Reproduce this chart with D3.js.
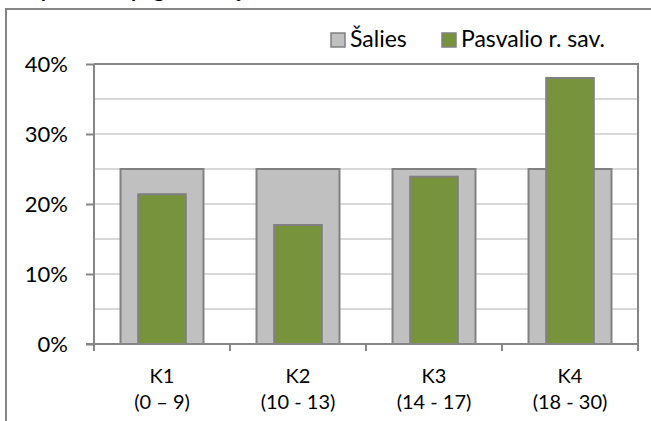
<!DOCTYPE html>
<html>
<head>
<meta charset="utf-8">
<script src="https://cdn.jsdelivr.net/npm/d3@7"></script>
<style>
  body { margin: 0; background: #fff; }
  svg { display: block; font-family: Lato, "Open Sans", sans-serif; }
</style>
</head>
<body>
<svg id="chart" width="651" height="421"></svg>
<script>
// data
const categories = ["K1", "K2", "K3", "K4"];
const ranges = ["(0 – 9)", "(10 - 13)", "(14 - 17)", "(18 - 30)"];
const salies = [0.25, 0.25, 0.25, 0.25];
const pasvalio = [0.214, 0.17, 0.239, 0.38];
const seriesNames = ["Šalies", "Pasvalio r. sav."];
const yTicks = [0, 0.1, 0.2, 0.3, 0.4];

const width = 651, height = 421;
const margin = {top: 64, right: 13, bottom: 77, left: 94};

const svg = d3.select("#chart");

// outer chart frame (runs off the right/bottom edge)
svg.append("rect")
    .attr("x", 6).attr("y", 9)
    .attr("width", 700).attr("height", 500)
    .attr("fill", "none")
    .attr("stroke", "#868686")
    .attr("stroke-width", 2);

// title, mostly above the visible area
svg.append("text")
    .attr("x", 8).attr("y", -3)
    .attr("font-weight", "bold")
    .attr("font-size", 21)
    .text("Dalyvavimas pagal amžių, 8 klasė");

let x = d3.scaleBand()
    .domain(categories)
    .range([margin.left, width - margin.right])
    .padding(0);

let y = d3.scaleLinear()
    .domain([0, 0.4])
    .range([height - margin.bottom, margin.top]);

// gridlines every 5%
svg.append("g")
    .selectAll("line")
    .data(y.ticks(8).filter(d => d > 0))
    .join("line")
        .attr("x1", margin.left)
        .attr("x2", width - margin.right)
        .attr("y1", d => y(d))
        .attr("y2", d => y(d))
        .attr("stroke", "#d9d9d9")
        .attr("stroke-width", 2);

// plot area top/right border
svg.append("path")
    .attr("d", `M${margin.left},${y(0.4)}H${width - margin.right}V${y(0)}`)
    .attr("fill", "none")
    .attr("stroke", "#868686")
    .attr("stroke-width", 2);

const rows = categories.map((c, i) => ({cat: c, s: salies[i], p: pasvalio[i]}));

// Šalies bars (wide, gray)
const wideW = x.bandwidth() * 0.61;
svg.append("g")
    .selectAll("rect")
    .data(rows)
    .join("rect")
        .attr("x", d => x(d.cat) + (x.bandwidth() - wideW) / 2)
        .attr("y", d => y(d.s))
        .attr("width", wideW)
        .attr("height", d => y(0) - y(d.s))
        .attr("fill", "#c0c0c0")
        .attr("stroke", "#808080")
        .attr("stroke-width", 2);

// Pasvalio bars (narrow, green)
const narrowW = x.bandwidth() * 0.35;
svg.append("g")
    .selectAll("rect")
    .data(rows)
    .join("rect")
        .attr("x", d => x(d.cat) + (x.bandwidth() - narrowW) / 2)
        .attr("y", d => y(d.p))
        .attr("width", narrowW)
        .attr("height", d => y(0) - y(d.p))
        .attr("fill", "#77933c")
        .attr("stroke", "#808080")
        .attr("stroke-width", 2);

// y axis
let yAxis = g => g
    .attr("transform", `translate(${margin.left},0)`)
    .call(d3.axisLeft(y).tickValues(yTicks).tickSize(8).tickPadding(18).tickFormat(d3.format(".0%")))
    .call(g => g.selectAll("line, path").attr("stroke", "#868686").attr("stroke-width", 2))
    .call(g => g.select(".domain").attr("d", `M0,${y(0)}V${y(0.4)}`))
    .call(g => g.selectAll("text")
        .attr("font-size", 22)
        .attr("font-family", "Lato, sans-serif")
        .attr("fill", "#000"));
svg.append("g").call(yAxis);

// x axis
let xAxis = g => g
    .attr("transform", `translate(0,${y(0)})`)
    .call(d3.axisBottom(x).tickSize(0).tickSizeOuter(0).tickFormat(""))
    .call(g => g.select(".domain").attr("stroke", "#868686").attr("stroke-width", 2)
        .attr("d", `M${margin.left - 8},0H${width - margin.right}`));
svg.append("g").call(xAxis);

// x tick marks at category boundaries
const bounds = categories.map(c => x(c)).concat([x(categories[3]) + x.bandwidth()]);
svg.append("g")
    .selectAll("line")
    .data(bounds)
    .join("line")
        .attr("x1", d => d).attr("x2", d => d)
        .attr("y1", y(0)).attr("y2", y(0) + 7)
        .attr("stroke", "#868686")
        .attr("stroke-width", 2);

// category labels
const lab = svg.append("g")
    .attr("font-size", 20)
    .attr("text-anchor", "middle")
    .selectAll("g")
    .data(categories)
    .join("g");
lab.append("text")
    .attr("x", d => x(d) + x.bandwidth() / 2)
    .attr("y", 383)
    .text(d => d);
lab.append("text")
    .attr("x", d => x(d) + x.bandwidth() / 2)
    .attr("y", 409)
    .text((d, i) => ranges[i]);

// legend
const legendX = [331, 442];
const legendFill = ["#c0c0c0", "#77933c"];
const leg = svg.append("g")
    .selectAll("g")
    .data(seriesNames)
    .join("g")
        .attr("transform", (d, i) => `translate(${legendX[i]},33)`);
leg.append("rect")
    .attr("width", 14).attr("height", 14)
    .attr("fill", (d, i) => legendFill[i])
    .attr("stroke", "#808080")
    .attr("stroke-width", 1.5);
leg.append("text")
    .attr("x", 19)
    .attr("y", 14)
    .attr("font-size", 23)
    .text(d => d);
</script>
</body>
</html>
